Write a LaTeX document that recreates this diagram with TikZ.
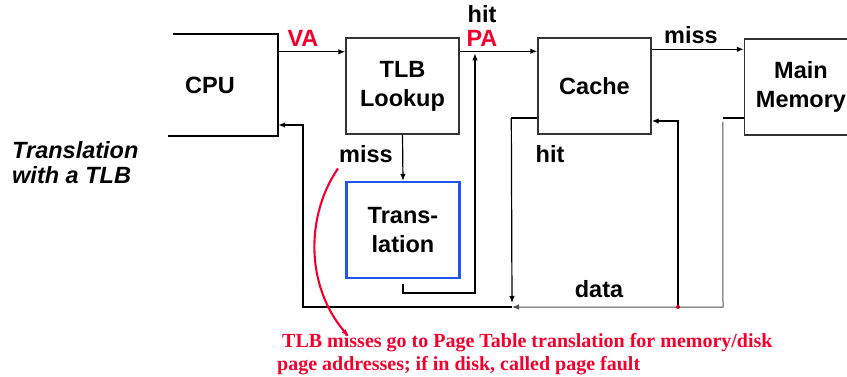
\documentclass[tikz,border=0pt]{standalone}
\usepackage{fontspec}
\setmainfont{Liberation Sans}
\newfontfamily\notefont{Liberation Serif}
\usetikzlibrary{arrows.meta,calc}
\definecolor{alertred}{RGB}{245,0,45}
\definecolor{boxblue}{RGB}{30,84,240}
\definecolor{wire}{RGB}{80,80,80}

\begin{document}
\begin{tikzpicture}[x=1pt,y=-1pt,
  bigfont/.style={font=\fontsize{23.5}{29}\selectfont\bfseries},
  lbl/.style={bigfont, inner sep=0pt, anchor=base},
  unit/.style={draw=black!80, line width=1.4pt, minimum width=113pt,
    minimum height=96pt, inner sep=0pt, align=center, bigfont},
  tip/.style={-{Latex[length=7pt,width=5.5pt]}},
  arr/.style={tip, line width=1.2pt},
  thinwire/.style={draw=wire, line width=1pt},
]
\useasboundingbox (0,0) rectangle (847,377);

% units
\node[inner sep=0pt, minimum width=136pt, minimum height=102pt, bigfont] (cpu) at (210,85) {CPU};
\draw[line width=2.2pt] ($(cpu.north east)+(-105,0)$) -- (cpu.north east) -- (cpu.south east) -- ($(cpu.south east)+(-110,0)$);
\node[unit] (tlb) at (402.5,86) {TLB\\Lookup};
\node[unit] (cache) at (594.5,86) {Cache};
\node[unit] (mem) at (801,87) {Main\\Memory};
\node[unit, draw=boxblue, line width=2.2pt] (trans) at (403,230) {Trans-\\lation};

% forward path: CPU -> TLB -> Cache -> Memory
\draw[arr] ($(cpu.north east)+(0,18)$) coordinate (vaS) -- (vaS -| tlb.west);
\draw[arr] ($(tlb.north east)+(0,14)$) coordinate (paS) -- (paS -| cache.west);
\draw[arr] ($(cache.north east)+(0,12)$) coordinate (mmS) -- (mmS -| mem.west);

% TLB miss goes through the page-table translation
\draw[arr] (tlb.south) -- (trans.north);
\coordinate (hitc) at (475,293);
\draw[arr] ($(trans.south)+(0,5)$) |- (hitc) -- ($(hitc |- paS)+(0,2)$);

% return bus
\coordinate (busR) at (723,307);
\coordinate (busM) at (512,307);
\coordinate (busL) at (303,307);
\coordinate (tap) at (678,307);
\coordinate (cpuIn) at ($(cpu.east)+(0,40)$);
\coordinate (cacheIn) at ($(cache.east)+(0,35)$);

\draw[line width=2pt] ($(mem.west)+(0,31)$) -- ++(-21,0) coordinate (memS);
\draw[thinwire, tip] ($(memS)+(0,4)$) -- (busR) -- (busM);
\draw[arr, line width=1.8pt] (busM) -- (busL) |- (cpuIn);

\draw[line width=2pt] ($(cache.west)+(0,32)$) -- ++(-26,0) coordinate (hitS);
\draw[arr] (hitS) -- ($(busM)+(0,-4)$);

\draw[arr, line width=1.6pt] (tap) |- (cacheIn);
\fill[alertred!80!black] (tap) circle (2pt);

% labels
\node[lbl, text=alertred] (va) at (303,47) {VA};
\node[lbl] (hit1) at (482,23) {hit};
\node[lbl, text=alertred] (pa) at (482,47) {PA};
\node[lbl] (miss1) at (691,44) {miss};
\node[lbl] (miss2) at (366,163) {miss};
\node[lbl] (hit2) at (550,163) {hit};
\node[lbl] (data) at (599,297) {data};

\node[inner sep=0pt, anchor=north west, align=left,
  font=\fontsize{23.5}{25}\selectfont\bfseries\itshape] (title) at (12,141)
  {Translation\\with a TLB};

% note on TLB misses
\node[inner sep=0pt, anchor=north west, align=left, text=alertred,
  font=\notefont\fontsize{20}{23}\selectfont\bfseries] (note) at (277,333)
  {\hspace*{5pt}TLB misses go to Page Table translation for memory/disk\\page addresses; if in disk, called page fault};
\coordinate (noteTip) at (349,337);
\draw[alertred, line width=2.1pt, -{Latex[length=8pt,width=5.5pt]}]
  ($(miss2.south west)+(-1,5)$) .. controls (306,215) and (305,285) .. (noteTip);
\end{tikzpicture}
\end{document}
